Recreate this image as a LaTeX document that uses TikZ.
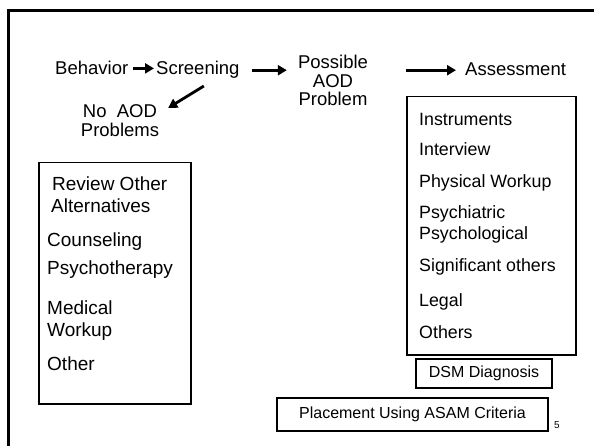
\documentclass[tikz,border=0pt]{standalone}
\usepackage{fontspec}
\setmainfont{Liberation Sans}
\usetikzlibrary{arrows.meta}
\begin{document}
\begin{tikzpicture}[x=1pt,y=-1pt,
  toptext/.style={font=\fontsize{18.5}{18.5}\selectfont, inner sep=0pt, anchor=base west},
  lefttext/.style={font=\fontsize{19}{19}\selectfont, inner sep=0pt, anchor=base west},
  righttext/.style={font=\fontsize{17.8}{17.8}\selectfont, inner sep=0pt, anchor=base west},
  boxframe/.style={draw, line width=1.5pt, inner sep=0pt},
  arr/.style={line width=2.8pt, -{Triangle[length=9pt,width=10pt]}}]
\useasboundingbox (0,0) rectangle (594,446);
\fill[white] (0,0) rectangle (594,446);
\draw[line width=2.6pt] (8.5,446) -- (8.5,10.5) -- (594,10.5);

% top row
\node[toptext] (beh) at (55,75) {Behavior};
\node[toptext] (scr) at (156,75) {Screening};
\node[toptext, anchor=base] (pos) at (333,69) {Possible};
\node[toptext, anchor=base] (pos2) at (333,87.5) {AOD};
\node[toptext, anchor=base] (pos3) at (333,106) {Problem};
\node[toptext] (ass) at (465,76) {Assessment};
\node[toptext, anchor=base] (noaod) at (120,118) {No\ \ AOD};
\node[toptext, anchor=base] (noaod2) at (120,137) {Problems};

\draw[arr, shorten <=5pt, shorten >=2pt] (beh.east) -- (beh.east -| scr.west);
\draw[arr, shorten <=12pt, shorten >=11pt] (scr.east) -- (scr.east -| pos.west);
\draw[arr, shorten <=38pt, shorten >=9pt] (scr.east -| pos.east) -- (scr.east -| ass.west);
\draw[arr] ([shift={(6,7)}]scr.south) -- ([shift={(11,3)}]noaod.north east);

% left box
\node[boxframe, minimum width=152pt, minimum height=241pt, anchor=north west] (lbx) at (38,162) {};
\node[lefttext] (l1) at (52,191) {Review Other};
\node[lefttext] (l2) at (51,213) {Alternatives};
\node[lefttext] (l3) at (47,247) {Counseling};
\node[lefttext] (l4) at (47,274) {Psychotherapy};
\node[lefttext] (l5) at (47,314) {Medical};
\node[lefttext] (l6) at (47,336) {Workup};
\node[lefttext] (l7) at (47,370) {Other};

% right box
\node[boxframe, minimum width=169pt, minimum height=258pt, anchor=north west] (rbx) at (406,96) {};
\node[righttext] (r1) at (419,126) {Instruments};
\node[righttext] (r2) at (419,156) {Interview};
\node[righttext] (r3) at (419,188) {Physical Workup};
\node[righttext] (r4) at (419,219) {Psychiatric};
\node[righttext] (r5) at (419,240) {Psychological};
\node[righttext] (r6) at (419,272) {Significant others};
\node[righttext] (r7) at (419,306) {Legal};
\node[righttext] (r8) at (419,338) {Others};

% lower boxes
\node[boxframe, minimum width=136pt, minimum height=29pt, font=\fontsize{16}{16}\selectfont] (dsm) at (484,373.5) {DSM Diagnosis};
\node[boxframe, minimum width=271pt, minimum height=33pt, font=\fontsize{16}{16}\selectfont] (place) at (412.5,414.5) {Placement Using ASAM Criteria};
\node[font=\fontsize{10}{10}\selectfont, inner sep=0pt] (pnum) at (557,425) {5};
\end{tikzpicture}
\end{document}
